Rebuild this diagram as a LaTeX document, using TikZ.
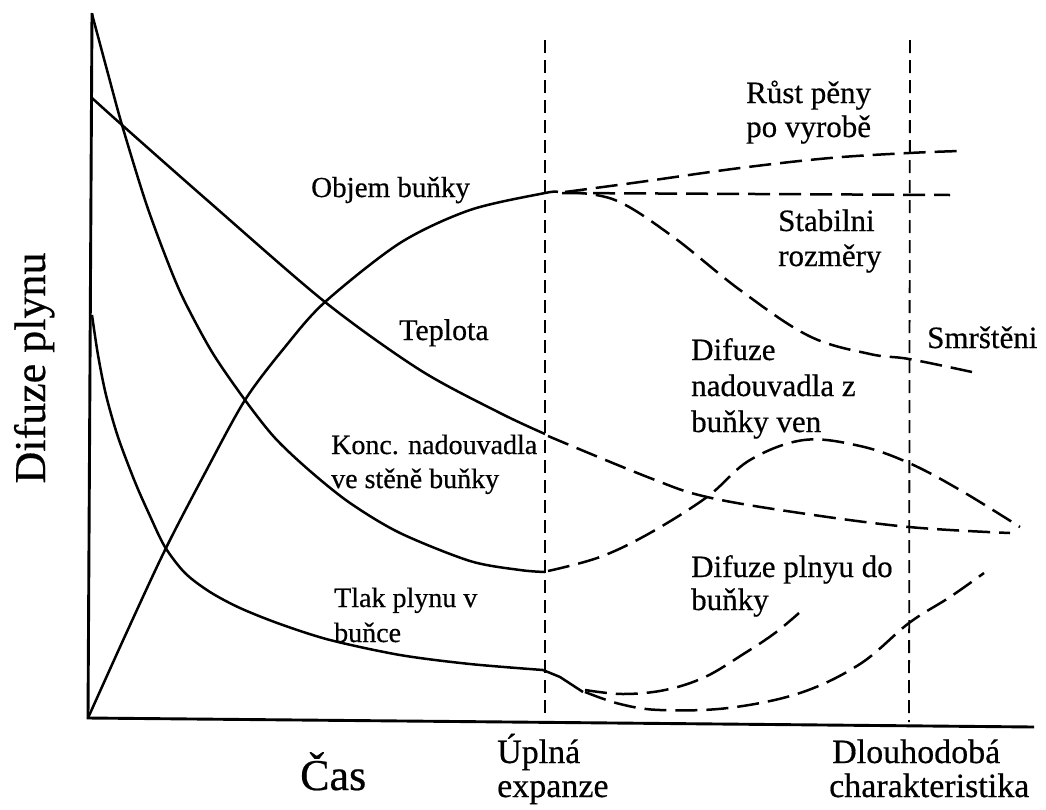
\documentclass[tikz,border=0pt]{standalone}
\usepackage{fontspec}
\setmainfont{Liberation Serif}
\newfontfamily\inkfont{Liberation Serif}[FakeBold=0.5]
\begin{document}
\begin{tikzpicture}[x=1pt,y=-1pt,
  axisline/.style={line width=2.9pt},
  solidcurve/.style={line width=2.5pt, line join=round},
  dashcurve/.style={line width=2.5pt, dash pattern=on 22pt off 9pt},
  phaseline/.style={line width=1.8pt, dash pattern=on 13pt off 7pt},
  lbl/.style={anchor=base west, inner sep=0pt, font=\inkfont\fontsize{28}{34}\selectfont},
  rlbl/.style={anchor=base west, inner sep=0pt, font=\inkfont\fontsize{31}{36}\selectfont},
  blbl/.style={anchor=base west, inner sep=0pt, font=\inkfont\fontsize{34}{40}\selectfont},
  axlbl/.style={inner sep=0pt, font=\inkfont\fontsize{44}{50}\selectfont}]
\useasboundingbox (0,0) rectangle (1046,809);

% axes
\coordinate (origin) at (88,718);
\coordinate (ytop) at (92,13);
\coordinate (xend) at (1034,727);
\draw[axisline] (ytop) -- (origin) -- (xend);

% phase boundaries
\coordinate (p1top) at (545,40);
\coordinate (p1bot) at (545,716);
\coordinate (p2top) at (910,40);
\coordinate (p2bot) at (909,722);
\draw[phaseline] (p1top) -- (p1bot);
\draw[phaseline] (p2top) -- (p2bot);

% blowing agent concentration in the cell wall
\draw[solidcurve] plot[smooth, tension=0.5] coordinates {
  (92,14) (107,70) (122,125) (145,200) (165,255) (183,298) (212,352)
  (245,400) (275,438) (310,471) (350,503) (400,533) (470,561) (520,570) (545,572)};
\draw[dashcurve] plot[smooth, tension=0.6] coordinates {
  (548,571) (600,557) (650,533) (707,497) (750,460) (804,440)
  (860,446) (909,463) (960,490) (1020,527)};

% temperature
\draw[solidcurve] plot[smooth, tension=0.5] coordinates {
  (92,98) (122,125) (207,200) (325,302) (420,370) (500,413) (545,434)};
\draw[dashcurve] plot[smooth, tension=0.6] coordinates {
  (548,436) (650,478) (707,497) (800,513) (909,527) (1010,533)};

% cell volume
\draw[solidcurve] plot[smooth, tension=0.5] coordinates {
  (88,718) (125,636) (165,550) (205,473) (245,400) (285,347) (325,302)
  (400,243) (470,210) (545,193) (558,192)};
\draw[dashcurve] plot[smooth, tension=0.6] coordinates {
  (565,192) (640,182) (740,168) (830,158) (909,153) (960,151)};
\draw[dashcurve] (562,193) -- (950,195);
\draw[dashcurve] plot[smooth, tension=0.6] coordinates {
  (565,192) (615,200) (672,236) (740,290) (809,336) (870,354) (909,359) (972,372)};

% gas pressure in the cell
\draw[solidcurve] plot[smooth, tension=0.5] coordinates {
  (92,315) (98,355) (106,395) (118,437) (135,482) (150,516) (165,547)
  (185,573) (210,592) (240,608) (280,624) (330,640) (400,655) (470,664) (543,670)};
\draw[solidcurve] (543,670) -- (560,677) -- (583,692);
\draw[dashcurve] plot[smooth, tension=0.6] coordinates {
  (585,690) (623,694) (665,690) (705,677) (745,653) (775,633) (799,613)};
\draw[dashcurve] plot[smooth, tension=0.6] coordinates {
  (585,692) (620,704) (660,710) (728,708) (800,693) (860,664)
  (909,623) (950,597) (984,573)};

% curve labels
\node[lbl, font=\inkfont\fontsize{29}{34}\selectfont] (objem) at (311,197) {Objem buňky};
\node[lbl, font=\inkfont\fontsize{30}{34}\selectfont] (teplota) at (399,340) {Teplota};
\node[lbl] (konc1) at (331,454) {Konc. nadouvadla};
\node[lbl] (konc2) at (331,488) {ve stěně buňky};
\node[lbl] (tlak1) at (334,607) {Tlak plynu v};
\node[lbl] (tlak2) at (334,642) {buňce};
\node[rlbl] (rust1) at (746,103) {Růst pěny};
\node[rlbl] (rust2) at (746,137) {po vyrobě};
\node[rlbl] (stab1) at (778,231) {Stabilni};
\node[rlbl] (stab2) at (778,266) {rozměry};
\node[rlbl] (smrs) at (927,348) {Smrštěni};
\node[rlbl] (difn1) at (691,360) {Difuze};
\node[rlbl] (difn2) at (691,396) {nadouvadla z};
\node[rlbl] (difn3) at (691,432) {buňky ven};
\node[rlbl] (difp1) at (691,577) {Difuze plnyu do};
\node[rlbl] (difp2) at (691,610) {buňky};

% axis labels
\node[blbl] (upl1) at (497,763) {Úplná};
\node[blbl] (upl2) at (497,797) {expanze};
\node[blbl] (dlh1) at (832,763) {Dlouhodobá};
\node[blbl] (dlh2) at (829,797) {charakteristika};
\node[axlbl, anchor=base west] (cas) at (300,790) {Čas};
\node[axlbl, anchor=base, rotate=90] (difuze) at (45,368) {Difuze plynu};
\end{tikzpicture}
\end{document}
